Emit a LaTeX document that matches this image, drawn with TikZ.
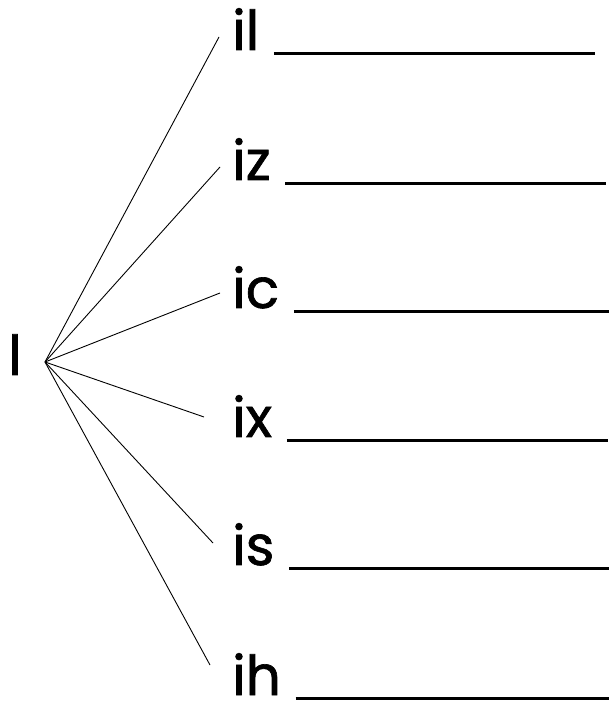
\documentclass[tikz,border=0pt]{standalone}
\usepackage{fontspec}
\setmainfont[FakeBold=1.2]{Poppins}
\usetikzlibrary{positioning}
\newcommand{\blank}{\rule[-5pt]{321pt}{3pt}}

\begin{document}
\begin{tikzpicture}[
      x=1pt, y=1pt,
      word/.style={anchor=base west, inner sep=0pt,
                   font=\fontsize{55}{60}\selectfont},
      link/.style={line width=0.9pt}]
    \useasboundingbox (0,0) rectangle (609,704);
    \node[word] (root) at (8,329) {l};
    \coordinate (hub) at (45,342);
    \node[word] (il) at (232,654) {il \blank};
    \node[word] (iz) at (232,524) {iz \blank};
    \node[word] (ic) at (232,396) {ic \blank};
    \node[word] (ix) at (232,267) {ix \blank};
    \node[word] (is) at (232,139) {is \blank};
    \node[word] (ih) at (232,9)   {ih \blank};
    \coordinate (il-in) at (219,667);
    \coordinate (iz-in) at (220,537);
    \coordinate (ic-in) at (220,411);
    \coordinate (ix-in) at (204,287);
    \coordinate (is-in) at (213,161);
    \coordinate (ih-in) at (210,39);
    \draw[link] (hub) -- (il-in);
    \draw[link] (hub) -- (iz-in);
    \draw[link] (hub) -- (ic-in);
    \draw[link] (hub) -- (ix-in);
    \draw[link] (hub) -- (is-in);
    \draw[link] (hub) -- (ih-in);
  \end{tikzpicture}
\end{document}
